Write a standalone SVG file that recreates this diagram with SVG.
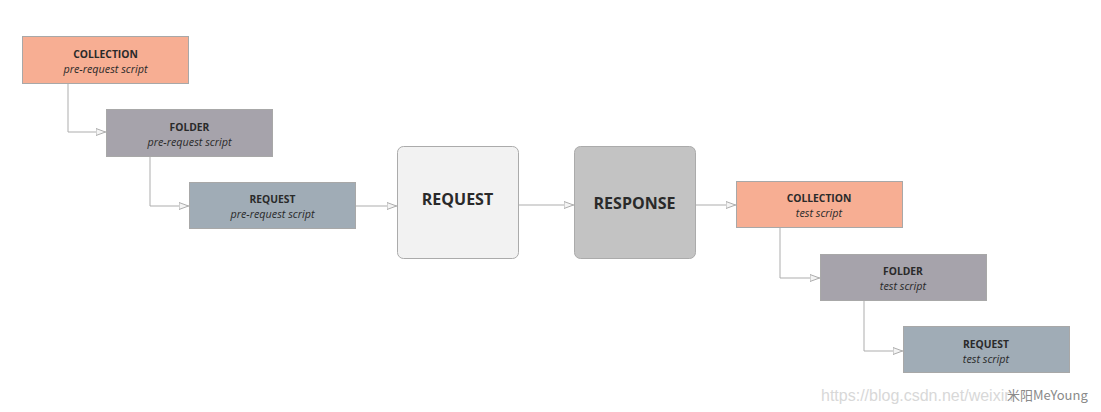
<svg xmlns="http://www.w3.org/2000/svg" width="1101" height="412" viewBox="0 0 1101 412">
<style>
.box{stroke:#a8a8a8;stroke-width:1}
.coll{fill:#f7ae93}
.fold{fill:#a6a3ab}
.req{fill:#a0acb6}
.t{font-family:"Open Sans","Noto Sans",sans-serif;fill:#2a2a2a;text-anchor:middle}
.b{font-weight:bold;font-size:10.3px}
.i{font-style:italic;font-size:10.8px}
.big{font-weight:bold;font-size:16px}
.c{fill:none;stroke:#adadad;stroke-width:1;marker-end:url(#arr)}
.wm{font-family:"Liberation Sans",Arial,sans-serif;font-size:16px;fill:#d8d8d8}
</style>
<defs>
<marker id="arr" viewBox="0 0 10 8" refX="10" refY="4" markerWidth="10" markerHeight="8" markerUnits="userSpaceOnUse" orient="auto">
<path d="M0,0.5 L9.5,4 L0,7.5 Z" fill="#f4f4f4" stroke="#adadad" stroke-width="1"/>
</marker>
</defs>
<rect width="1101" height="412" fill="#ffffff"/>
<g id="connectors">
<path class="c" d="M68,84 V132 H106"/>
<path class="c" d="M150,157 V206 H189"/>
<path class="c" d="M356,206 H397"/>
<path class="c" d="M519,205 H574"/>
<path class="c" d="M695,205 H736"/>
<path class="c" d="M780,228 V278 H820"/>
<path class="c" d="M864,301 V351 H903"/>
</g>
<g id="collection-pre">
<rect class="box coll" x="22.5" y="36.5" width="166" height="47"/>
<text class="t b" x="105.5" y="58">COLLECTION</text>
<text class="t i" x="105.5" y="73">pre-request script</text>
</g>
<g id="folder-pre">
<rect class="box fold" x="106.5" y="109.5" width="166" height="47"/>
<text class="t b" x="189.5" y="131">FOLDER</text>
<text class="t i" x="189.5" y="146">pre-request script</text>
</g>
<g id="request-pre">
<rect class="box req" x="189.5" y="182.5" width="166" height="46"/>
<text class="t b" x="272.5" y="203">REQUEST</text>
<text class="t i" x="272.5" y="218">pre-request script</text>
</g>
<g id="request">
<rect x="397.5" y="146.5" width="121" height="112" rx="6" fill="#f2f2f2" stroke="#ababab"/>
<text class="t big" x="457.5" y="205">REQUEST</text>
</g>
<g id="response">
<rect x="574.5" y="146.5" width="121" height="112" rx="6" fill="#c3c3c3" stroke="#ababab"/>
<text class="t big" x="634.5" y="209">RESPONSE</text>
</g>
<g id="collection-test">
<rect class="box coll" x="736.5" y="181.5" width="166" height="46"/>
<text class="t b" x="819" y="202">COLLECTION</text>
<text class="t i" x="819" y="217">test script</text>
</g>
<g id="folder-test">
<rect class="box fold" x="820.5" y="254.5" width="166" height="46"/>
<text class="t b" x="903" y="275">FOLDER</text>
<text class="t i" x="903" y="290">test script</text>
</g>
<g id="request-test">
<rect class="box req" x="903.5" y="326.5" width="166" height="46"/>
<text class="t b" x="986" y="348">REQUEST</text>
<text class="t i" x="986" y="363">test script</text>
</g>
<g id="watermark">
<text class="wm" x="821" y="401">https://blog.csdn.net/weixin</text>
<text x="1007" y="400" font-family="'Noto Sans CJK SC','Liberation Sans',sans-serif" font-size="13" fill="#8a8a8a">米阳MeYoung</text>
</g>
</svg>
